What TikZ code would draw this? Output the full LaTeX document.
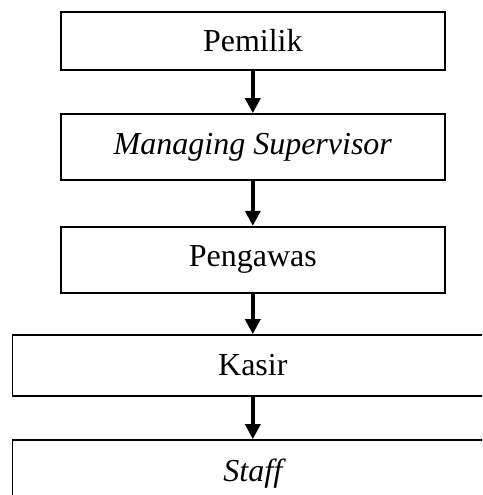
\documentclass[tikz,border=0pt]{standalone}
\usepackage{fontspec}
\setmainfont{Liberation Serif}
\usetikzlibrary{arrows.meta}
\begin{document}
\begin{tikzpicture}[x=1pt,y=-1pt,
  box/.style={draw,line width=1.8pt,minimum width=384.3pt,inner sep=0pt,font=\fontsize{32}{38}\selectfont},
  widebox/.style={box,minimum width=480.6pt},
  conn/.style={line width=3.6pt,-{Triangle[length=15pt,width=15pt]}}]
\useasboundingbox (0,0) rectangle (482,495);
\clip (0,0) rectangle (482,495);
\node[box,minimum height=58pt] (pemilik) at (252.8,40.7) {Pemilik};
\node[box,minimum height=66.3pt] (ms) at (252.8,147.2) {\itshape Managing Supervisor};
\node[box,minimum height=66pt] (peng) at (252.8,259.7) {Pengawas};
\node[widebox,minimum height=61pt] (kasir) at (252.8,365.5) {Kasir};
\node[widebox,minimum height=67pt] (staff) at (252.8,473.5) {\itshape Staff};
\draw[conn] (pemilik.south) -- (ms.north);
\draw[conn] (ms.south) -- (peng.north);
\draw[conn] (peng.south) -- (kasir.north);
\draw[conn] (kasir.south) -- (staff.north);
\end{tikzpicture}
\end{document}
